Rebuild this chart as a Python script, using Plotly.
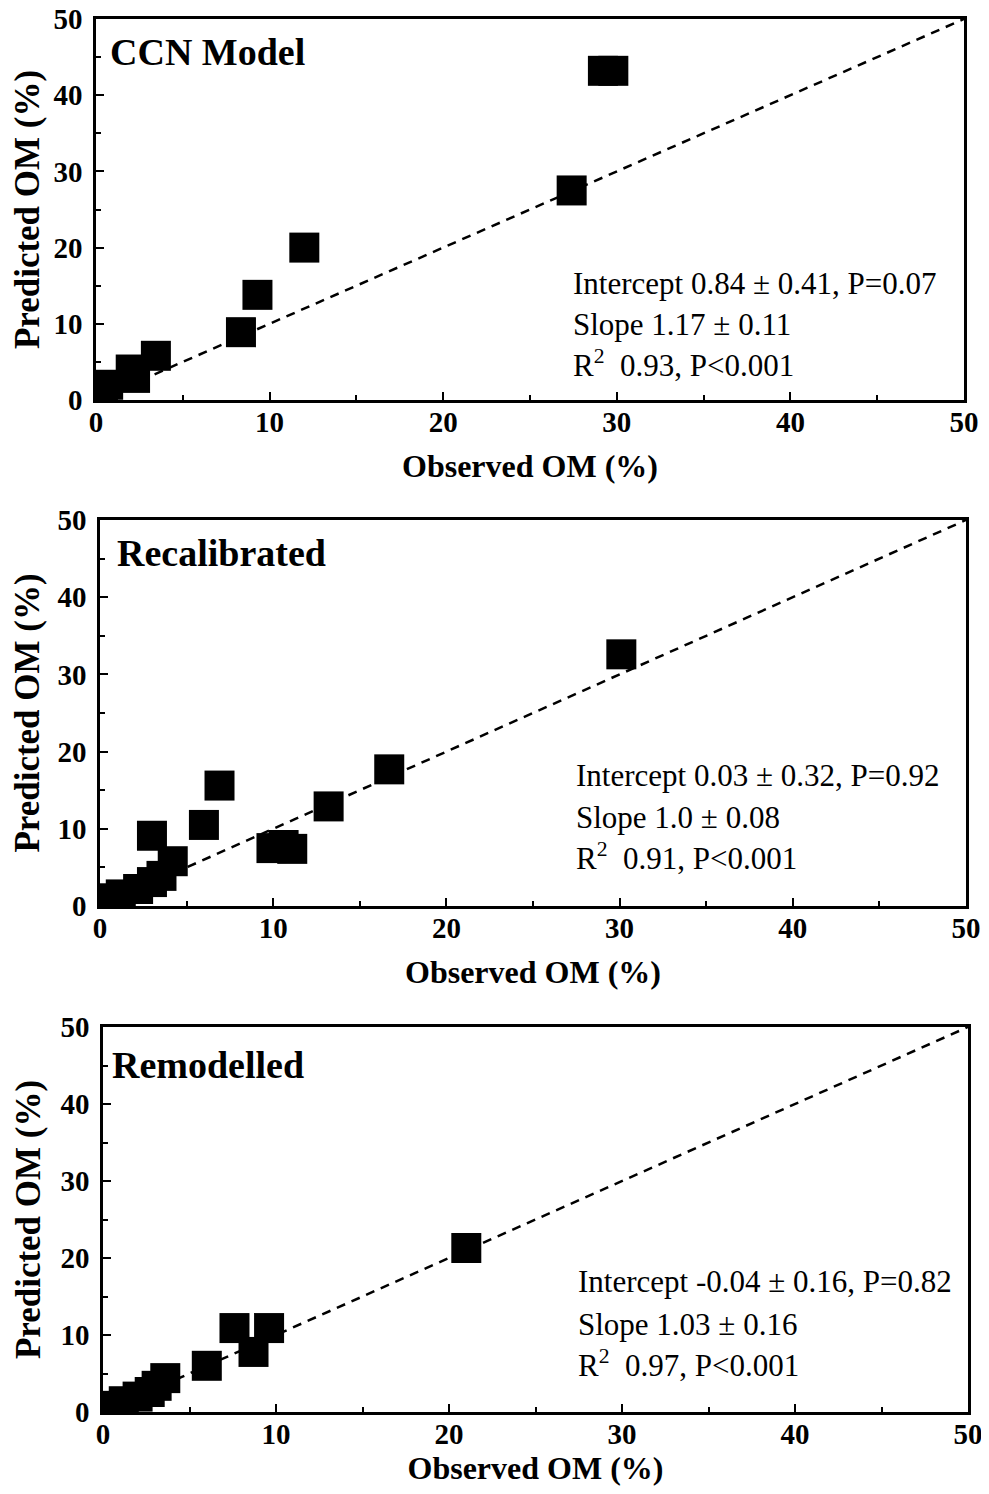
import plotly.graph_objects as go

# ---------------- data ----------------
panel_titles = ["CCN Model", "Recalibrated", "Remodelled"]

obs_ccn = [0.4, 0.7, 2.0, 2.25, 3.45, 8.35, 9.3, 12.0, 27.4, 29.2, 29.8]
pred_ccn = [1.0, 2.0, 4.0, 2.9, 5.8, 8.9, 13.8, 20.0, 27.5, 43.2, 43.2]

obs_recal = [0.5, 1.2, 2.2, 3.0, 3.55, 4.2, 3.0, 6.0, 6.9, 9.9, 10.6, 11.1, 13.2, 16.7, 30.1]
pred_recal = [1.0, 1.5, 2.2, 3.1, 3.9, 5.8, 9.1, 10.5, 15.6, 7.5, 7.9, 7.4, 12.9, 17.7, 32.6]

obs_remod = [0.5, 1.2, 2.0, 2.7, 3.1, 3.6, 6.0, 7.6, 8.7, 9.6, 21.0]
pred_remod = [0.8, 1.4, 2.0, 2.6, 3.4, 4.4, 6.0, 10.9, 7.8, 10.9, 21.3]

one_to_one = [0, 50]

stats = [
    ["Intercept 0.84 ± 0.41, P=0.07", "Slope 1.17 ± 0.11", "R<sup>2</sup>  0.93, P&lt;0.001"],
    ["Intercept 0.03 ± 0.32, P=0.92", "Slope 1.0 ± 0.08", "R<sup>2</sup>  0.91, P&lt;0.001"],
    ["Intercept -0.04 ± 0.16, P=0.82", "Slope 1.03 ± 0.16", "R<sup>2</sup>  0.97, P&lt;0.001"],
]
tick_vals = [0, 10, 20, 30, 40, 50]
tick_text = ["0", "10", "20", "30", "40", "50"]

# ---------------- layout geometry ----------------
OFF = 8  # page body margin
W, H = 989 - OFF, 1494 - 2 * OFF
# plot-area pixel boxes in page coords (left, right, top, bottom)
boxes = [(96, 964, 19, 400), (100, 966, 520, 906), (103, 968, 1027, 1412)]
xtitle_standoff = [19, 19, 13]
stat_y = [[0.307, 0.197, 0.095], [0.337, 0.228, 0.127], [0.338, 0.226, 0.125]]
title_pos = [(0.014, 0.914), (0.017, 0.915), (0.008, 0.901)]

FONT = "Liberation Serif, Times New Roman, serif"
fig = go.Figure()
series = [(obs_ccn, pred_ccn), (obs_recal, pred_recal), (obs_remod, pred_remod)]

for i, ((xs, ys), (l, r, t, b)) in enumerate(zip(series, boxes)):
    l, r, t, b = l - OFF, r - OFF, t - OFF, b - OFF
    n = "" if i == 0 else str(i + 1)
    xa, ya = "x" + n, "y" + n
    fig.add_trace(go.Scatter(x=one_to_one, y=one_to_one, mode="lines", xaxis=xa, yaxis=ya,
                             line=dict(color="black", width=2.5, dash="9px,7px"),
                             showlegend=False, hoverinfo="skip"))
    fig.add_trace(go.Scatter(x=xs, y=ys, mode="markers", xaxis=xa, yaxis=ya,
                             marker=dict(symbol="square", size=30, color="black", line=dict(width=0)),
                             showlegend=False))
    axcommon = dict(range=[0, 50], tickvals=tick_vals, ticktext=tick_text, ticks="inside",
                    ticklen=8, tickwidth=2, tickcolor="black", showline=True, linewidth=2.5,
                    linecolor="black", mirror=True, showgrid=False, zeroline=False,
                    minor=dict(dtick=5, tick0=0, ticks="inside", ticklen=5, tickwidth=2, tickcolor="black"),
                    tickfont=dict(family=FONT, size=29, color="black", weight="bold"),
                    ticklabeloverflow="allow", automargin=False)
    fig.layout["xaxis" + n] = dict(axcommon, domain=[l / W, r / W], anchor=ya,
                                   ticklabelstandoff=-6,
                                   title=dict(text="Observed OM (%)", standoff=xtitle_standoff[i],
                                              font=dict(family=FONT, size=32, color="black", weight="bold")))
    fig.layout["yaxis" + n] = dict(axcommon, domain=[(H - b) / H, (H - t) / H], anchor=xa,
                                   ticklabelstandoff=5,
                                   title=dict(text="Predicted OM (%)", standoff=10,
                                              font=dict(family=FONT, size=35, color="black", weight="bold")))
    fig.add_annotation(text=panel_titles[i], xref=xa + " domain", yref=ya + " domain",
                       x=title_pos[i][0], y=title_pos[i][1], xanchor="left", yanchor="middle",
                       showarrow=False, font=dict(family=FONT, size=38, color="black", weight="bold"))
    for line, yy in zip(stats[i], stat_y[i]):
        fig.add_annotation(text=line, xref=xa + " domain", yref=ya + " domain",
                           x=0.547, y=yy, xanchor="left", yanchor="middle", showarrow=False,
                           font=dict(family=FONT, size=31, color="black"))

fig.update_layout(width=W, height=H, margin=dict(l=0, r=0, t=0, b=0),
                  plot_bgcolor="white", paper_bgcolor="white")
fig.write_html("out.html")
